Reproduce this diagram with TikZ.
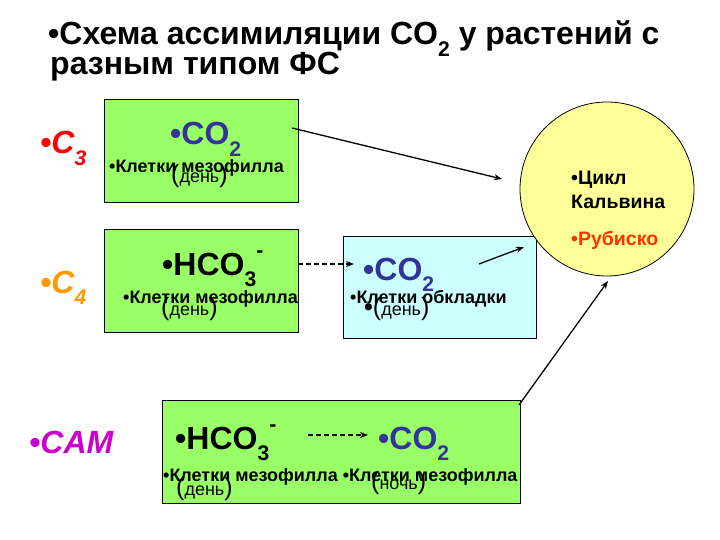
\documentclass[tikz,border=0pt]{standalone}
\usepackage{fontspec}
\setmainfont{Liberation Sans}
\usetikzlibrary{arrows.meta}
\definecolor{LeafGreen}{HTML}{99FF66}
\definecolor{SheathBlue}{HTML}{CCFFFF}
\definecolor{CycleYellow}{HTML}{FFFF99}
\definecolor{Navy}{HTML}{333399}
\definecolor{CRed}{HTML}{FF0000}
\definecolor{COrange}{HTML}{FF9900}
\definecolor{CMagenta}{HTML}{CC00CC}
\definecolor{Rubisco}{HTML}{FF3300}
\newcommand{\bigsz}{\fontsize{32}{34}\selectfont}
\newcommand{\midsz}{\fontsize{18}{20}\selectfont}
\newcommand{\smallsz}{\fontsize{18}{20}\selectfont}
\newcommand{\parsz}{\fontsize{25}{27}\selectfont}
\newcommand{\lowidx}[1]{\raisebox{-0.35em}{\scalebox{0.66}{#1}}}
\newcommand{\upidx}[1]{\raisebox{0.55em}{\scalebox{0.66}{#1}}}
\newcommand{\inbrackets}[1]{{\parsz(}{\smallsz\mdseries #1}{\parsz)}}
\tikzset{
  cellbox/.style={draw=black,line width=0.8pt,minimum width=194pt,minimum height=103pt,inner sep=0pt},
  leafbox/.style={cellbox,fill=LeafGreen},
  sheathbox/.style={cellbox,fill=SheathBlue},
  calvinring/.style={circle,draw=black,line width=0.8pt,fill=CycleYellow,minimum size=174pt,inner sep=0pt},
  plantlabel/.style={anchor=base west,inner sep=0pt,font=\bigsz\bfseries\itshape},
  formula/.style={anchor=base west,inner sep=0pt,font=\bigsz\bfseries},
  celltext/.style={anchor=base west,inner sep=0pt,font=\midsz\bfseries},
  timetext/.style={anchor=base west,inner sep=0pt,font=\smallsz},
  arr/.style={-{Stealth[length=8pt,width=6pt]},line width=1.3pt},
  dasharr/.style={arr,dash pattern=on 5pt off 3pt}
}
\begin{document}
\begin{tikzpicture}[x=1pt,y=-1pt]
  \useasboundingbox (0,0) rectangle (720,540);
  % title
  \node[formula] (title1) at (48,45) {•Схема ассимиляции CO\lowidx{2} у растений с};
  \node[formula] (title2) at (50,75) {разным типом ФС};
  % boxes
  \node[leafbox] (c3box) at (201,150.5) {};
  \node[leafbox] (c4box) at (201,280.5) {};
  \node[sheathbox,minimum width=193pt,minimum height=102pt] (bsbox) at (439.5,287) {};
  \node[leafbox,minimum width=358pt] (cambox) at (341,451.5) {};
  \node[calvinring] (calvin) at (607,189) {};
  % plant types
  \node[plantlabel,text=CRed] (c3) at (40,154) {•C\lowidx{3}};
  \node[plantlabel,text=COrange] (c4) at (40,293) {•C\lowidx{4}};
  \node[plantlabel,text=CMagenta] (cam) at (29,453) {•CAM};
  % C3
  \node[formula,text=Navy] (c3co2) at (170,145) {•CO\lowidx{2}};
  \node[celltext] (c3cells) at (109,173) {•Клетки мезофилла};
  \node[timetext] (c3day) at (171,183) {\inbrackets{день}};
  % C4
  \node[formula] (c4hco) at (162,275) {•HCO\lowidx{3}\upidx{-}};
  \node[celltext] (c4cells) at (123,303) {•Клетки мезофилла};
  \node[timetext] (c4day) at (161,315) {\inbrackets{день}};
  \node[formula,text=Navy] (bsco2) at (363,280) {•CO\lowidx{2}};
  \node[celltext] (bscells) at (350,303) {•Клетки обкладки};
  \node[timetext] (bsday) at (364,315) {{\parsz\bfseries•}\inbrackets{день}};
  % CAM
  \node[formula] (camhco) at (175,449) {•HCO\lowidx{3}\upidx{-}};
  \node[formula,text=Navy] (camco2) at (378,449) {•CO\lowidx{2}};
  \node[celltext] (camcells) at (163,481) {•Клетки мезофилла •Клетки мезофилла};
  \node[timetext] (camday) at (176,495) {\inbrackets{день}};
  \node[timetext] (camnight) at (371,489) {\inbrackets{ночь}};
  % cycle
  \node[celltext,font=\fontsize{19.5}{21}\selectfont\bfseries] (cyc1) at (571,185) {•Цикл};
  \node[celltext,font=\fontsize{19.5}{21}\selectfont\bfseries] (cyc2) at (571,209) {Кальвина};
  \node[celltext,font=\fontsize{19.5}{21}\selectfont\bfseries,text=Rubisco] (rub) at (571,245) {•Рубиско};
  % connectors
  \coordinate (c3out) at (292,128);
  \coordinate (c3in) at (502,179);
  \coordinate (bsout) at (479,264);
  \coordinate (bsin) at (524,247);
  \coordinate (camout) at (519,405);
  \coordinate (camin) at (608,281);
  \coordinate (c4gap) at (354,264);
  \coordinate (camgap) at (308,435);
  \coordinate (camgap2) at (368,435);
  \draw[arr] (c3out) -- (c3in);
  \draw[arr] (bsout) -- (bsin);
  \draw[arr] (camout) -- (camin);
  \draw[dasharr] (c4box.east |- c4gap) -- (c4gap);
  \draw[dasharr] (camgap) -- (camgap2);
\end{tikzpicture}
\end{document}
